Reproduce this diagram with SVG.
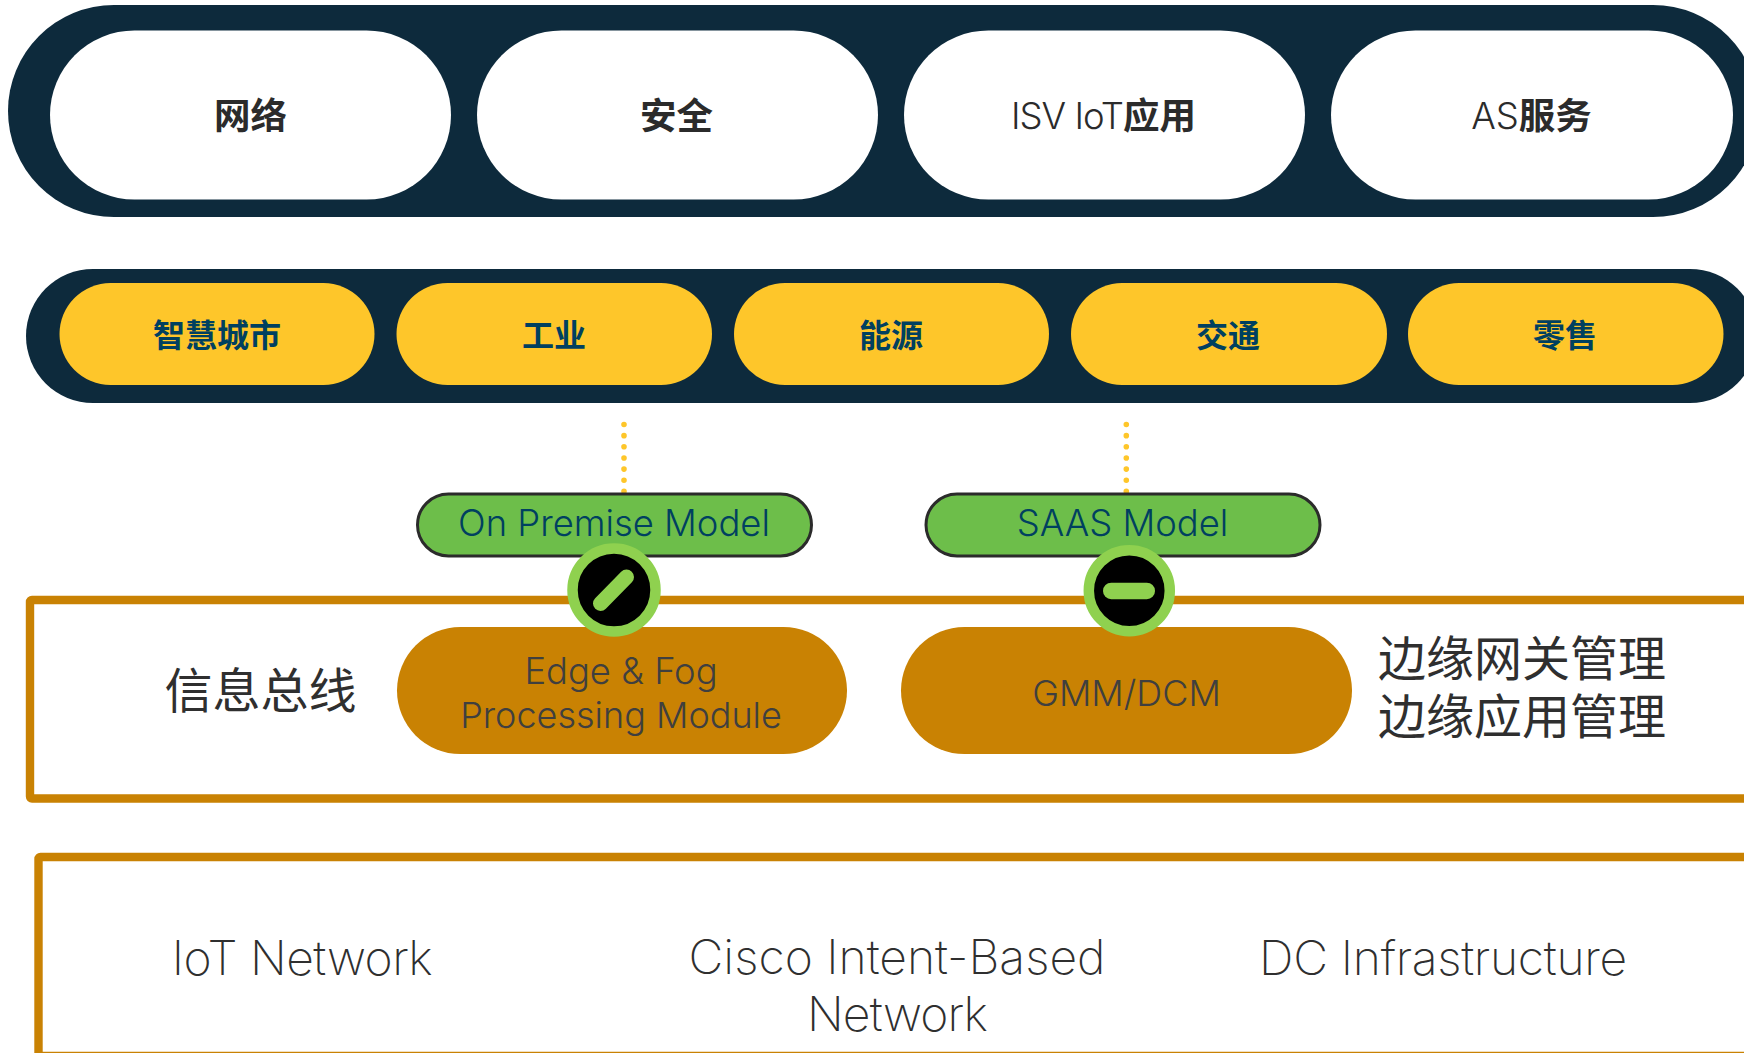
<svg xmlns="http://www.w3.org/2000/svg" width="1744" height="1053" viewBox="0 0 1744 1053">
<style>
text{font-family:"Inter","Noto Sans CJK SC",sans-serif;text-anchor:middle;font-weight:300}
.bar{fill:#0d2a3c}
.white{fill:#fff}
.yellow{fill:#fec62a}
.frame{fill:none;stroke:#c98203;stroke-width:8.4;stroke-linejoin:round}
.orange{fill:#c98203}
.green{fill:#6dbe4a;stroke:#2b2b2b;stroke-width:3}
.ring{fill:#000;stroke:#8fd14f;stroke-width:10.5}
.cjkb{font-family:"Noto Sans CJK SC",sans-serif;font-weight:700}
.t1{font-size:36.500px;fill:#2b2b2b}
.t2{font-size:32px;fill:#004060}
.mod{font-size:36.400px;fill:#004060}
.org{font-size:36.400px;fill:#3f3f3f}
.big{font-size:48px;fill:#2f2f2f;font-weight:200}
.cjkl{font-family:"Noto Sans CJK SC",sans-serif;font-weight:400;font-size:48px;fill:#2f2f2f}
.dot{fill:none;stroke:#fec62a;stroke-width:5.6;stroke-linecap:round;stroke-dasharray:0 11.15}
</style>
<g id="services">
<rect class="bar" x="8" y="5" width="1751" height="212" rx="106"/>
<g id="n-network"><rect class="white" x="50" y="30.5" width="401" height="169" rx="84.5"/><text class="t1 cjkb" x="250.500" y="129">网络</text></g>
<g id="n-security"><rect class="white" x="477" y="30.5" width="401" height="169" rx="84.5"/><text class="t1 cjkb" x="676.500" y="129">安全</text></g>
<g id="n-isv"><rect class="white" x="904" y="30.5" width="401" height="169" rx="84.5"/><text class="t1" x="1103.500" y="129"><tspan letter-spacing="-1">ISV IoT</tspan><tspan class="cjkb">应用</tspan></text></g>
<g id="n-as"><rect class="white" x="1331" y="30.5" width="402" height="169" rx="84.5"/><text class="t1" x="1531.500" y="129">AS<tspan class="cjkb">服务</tspan></text></g>
</g>
<g id="verticals">
<rect class="bar" x="26" y="269" width="1731" height="134" rx="67"/>
<g id="n-city"><rect class="yellow" x="59.500" y="283" width="315" height="102" rx="51"/><text class="t2 cjkb" x="217" y="347">智慧城市</text></g>
<g id="n-industry"><rect class="yellow" x="396.500" y="283" width="315.500" height="102" rx="51"/><text class="t2 cjkb" x="554" y="347">工业</text></g>
<g id="n-energy"><rect class="yellow" x="734" y="283" width="315" height="102" rx="51"/><text class="t2 cjkb" x="891" y="347">能源</text></g>
<g id="n-transport"><rect class="yellow" x="1071" y="283" width="316" height="102" rx="51"/><text class="t2 cjkb" x="1228" y="347">交通</text></g>
<g id="n-retail"><rect class="yellow" x="1408" y="283" width="315.500" height="102" rx="51"/><text class="t2 cjkb" x="1565" y="347">零售</text></g>
</g>
<g id="n-frame-bus"><rect class="frame" x="30" y="600" width="1730" height="198.500" rx="2"/></g>
<g id="n-frame-net"><rect class="frame" x="38.500" y="857" width="1730" height="199" rx="2"/></g>
<g id="connectors">
<path class="dot" d="M624 424.500V492"/>
<path class="dot" d="M1126.300 424.500V492"/>
</g>
<g id="n-bus-label"><text class="cjkl" x="260.500" y="708">信息总线</text></g>
<g id="n-edge"><rect class="orange" x="397" y="627" width="450" height="127" rx="63.500"/><text class="org" x="621" y="684">Edge &amp; Fog</text><text class="org" x="621" y="728" style="font-size:36px">Processing Module</text></g>
<g id="n-gmm"><rect class="orange" x="901" y="627" width="451" height="127" rx="63.500"/><text class="org" x="1126.500" y="706" style="font-size:36px">GMM/DCM</text></g>
<g id="n-mgmt"><text class="cjkl" x="1522" y="675.500">边缘网关管理</text><text class="cjkl" x="1522" y="734">边缘应用管理</text></g>
<g id="n-onprem"><rect class="green" x="417.500" y="494" width="394" height="62" rx="31"/><text class="mod" x="614" y="536">On Premise Model</text></g>
<g id="n-saas"><rect class="green" x="926" y="494" width="394" height="62" rx="31"/><text class="mod" x="1122.500" y="536">SAAS Model</text></g>
<g id="n-slash"><circle class="ring" cx="614" cy="590" r="41.500"/><path d="M600.500 603.500L626.500 577" fill="none" stroke="#8fd14f" stroke-width="15" stroke-linecap="round"/></g>
<g id="n-minus"><circle class="ring" cx="1129.300" cy="590.700" r="40.500"/><rect x="1103" y="582.700" width="52" height="16.500" rx="8.250" fill="#8fd14f"/></g>
<g id="n-iot"><text class="big" x="302" y="975" letter-spacing="-.5">IoT Network</text></g>
<g id="n-ibn"><text class="big" x="897" y="974">Cisco Intent-Based</text><text class="big" x="897" y="1031" letter-spacing="-.8">Network</text></g>
<g id="n-dc"><text class="big" x="1443" y="975" letter-spacing="-.3">DC Infrastructure</text></g>
</svg>
